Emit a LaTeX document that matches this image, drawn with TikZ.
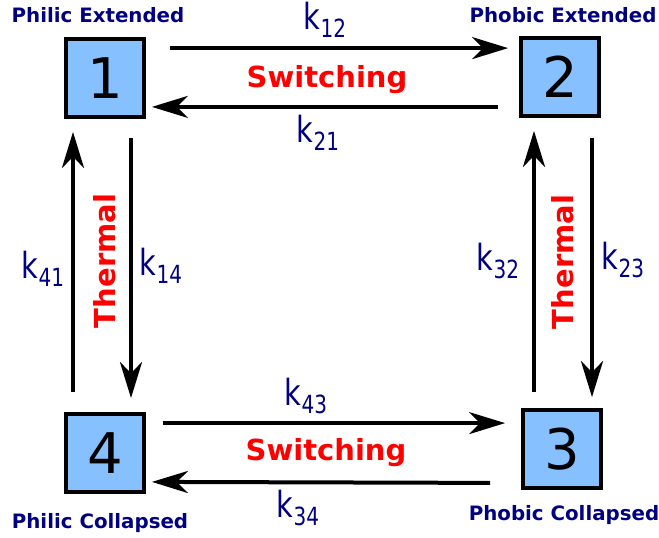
\documentclass[tikz,border=0pt]{standalone}
\usepackage{fontspec}
\setmainfont{DejaVu Sans}
\usepackage{graphicx}
\usetikzlibrary{positioning,arrows.meta}
\definecolor{statefill}{RGB}{135,192,255}
\definecolor{ratenavy}{RGB}{0,0,128}
\definecolor{procred}{RGB}{255,0,0}
\newcommand{\krate}[1]{\scalebox{0.8}[1]{k\raisebox{-8pt}{\fontsize{25}{25}\selectfont #1}}}
\tikzset{
  statebox/.style={rectangle,draw=black,line width=3.8pt,fill=statefill,minimum size=78pt,inner sep=0pt,font=\fontsize{56}{56}\selectfont},
  statelabel/.style={text=ratenavy,font=\bfseries\fontsize{19.8}{20}\selectfont,anchor=base,inner sep=0pt},
  ratelabel/.style={text=ratenavy,font=\fontsize{36}{36}\selectfont,anchor=base,inner sep=0pt},
  proclabel/.style={text=procred,font=\bfseries\fontsize{29}{29}\selectfont,anchor=base,inner sep=0pt},
  edge/.style={-{Stealth[length=36pt,width=22pt,inset=11pt]},line width=4pt}
}
\begin{document}
\begin{tikzpicture}[x=1pt,y=-1pt]
  \useasboundingbox (0,0) rectangle (659,538);
  % the four states
  \node[statebox] (b1) at (105,78) {1};
  \node[statebox] (b2) at (560,77) {2};
  \node[statebox] (b3) at (562,449) {3};
  \node[statebox] (b4) at (105,453) {4};
  \node[statelabel] (t1) at (98,23) {Philic Extended};
  \node[statelabel] (t2) at (563,23) {Phobic Extended};
  \node[statelabel] (t3) at (564,520) {Phobic Collapsed};
  \node[statelabel] (t4) at (100,528) {Philic Collapsed};
  % switching
  \draw[edge] ([shift={(24pt,-11pt)}]b1.north east) -- ([shift={(-11pt,-12pt)}]b2.north west);
  \draw[edge] ([shift={(-21pt,11pt)}]b2.south west) -- ([shift={(6pt,12pt)}]b1.south east);
  \draw[edge] ([shift={(17pt,-11pt)}]b4.north east) -- ([shift={(-16pt,-15pt)}]b3.north west);
  \draw[edge] ([shift={(-31pt,7pt)}]b3.south west) -- ([shift={(6pt,12pt)}]b4.south east);
  % thermal
  \draw[edge] ([shift={(26pt,-19pt)}]b1.south) -- ([shift={(26pt,14pt)}]b4.north);
  \draw[edge] ([shift={(-32pt,20pt)}]b4.north) -- ([shift={(-32pt,-13pt)}]b1.south);
  \draw[edge] ([shift={(32pt,-20pt)}]b2.south) -- ([shift={(30pt,11pt)}]b3.north);
  \draw[edge] ([shift={(-28pt,16pt)}]b3.north) -- ([shift={(-26pt,-13pt)}]b2.south);
  % labels
  \node[proclabel] (sw1) at (327,87) {Switching};
  \node[proclabel] (sw2) at (326,460) {Switching};
  \node[proclabel,rotate=90] (th1) at (115,261) {Thermal};
  \node[proclabel,rotate=90] (th2) at (573,262) {Thermal};
  \node[ratelabel] (k12) at (325,30) {\krate{12}};
  \node[ratelabel] (k21) at (318,142) {\krate{21}};
  \node[ratelabel] (k43) at (306,405) {\krate{43}};
  \node[ratelabel] (k34) at (298,517) {\krate{34}};
  \node[ratelabel] (k41) at (43,278) {\krate{41}};
  \node[ratelabel] (k14) at (161,275) {\krate{14}};
  \node[ratelabel] (k32) at (498,270) {\krate{32}};
  \node[ratelabel] (k23) at (623,269) {\krate{23}};
\end{tikzpicture}
\end{document}
